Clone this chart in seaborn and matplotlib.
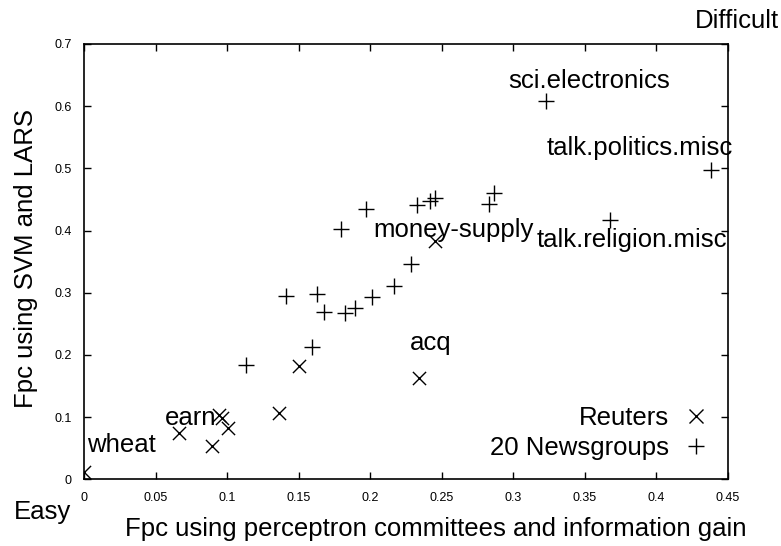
import matplotlib
matplotlib.use("Agg")
import matplotlib.pyplot as plt
import seaborn as sns
import pandas as pd
from matplotlib.lines import Line2D

# ---- data ----
reuters_x = [0.0, 0.0664, 0.0897, 0.0944, 0.0965, 0.1005, 0.1366, 0.150, 0.2338, 0.2455]
reuters_y = [0.011, 0.075, 0.054, 0.1032, 0.0990, 0.083, 0.106, 0.182, 0.163, 0.3836]

news_x = [0.1133, 0.1413, 0.1592, 0.1627, 0.1678, 0.1825, 0.1895, 0.2012, 0.2163, 0.2284,
          0.1797, 0.197, 0.2326, 0.2415, 0.245, 0.2867, 0.2827, 0.323, 0.4378, 0.3678]
news_y = [0.1838, 0.2947, 0.2132, 0.298, 0.2695, 0.267, 0.275, 0.2926, 0.3108, 0.346,
          0.402, 0.434, 0.441, 0.448, 0.4517, 0.461, 0.442, 0.609, 0.498, 0.4169]

label_names = ["wheat", "earn", "acq", "money-supply", "sci.electronics",
               "talk.politics.misc", "talk.religion.misc"]
label_x = [0.002, 0.0566, 0.228, 0.2019, 0.2967, 0.3236, 0.3161]
label_y = [0.044, 0.0873, 0.208, 0.390, 0.6286, 0.5214, 0.374]

x_ticks = [0, 0.05, 0.1, 0.15, 0.2, 0.25, 0.3, 0.35, 0.4, 0.45]
x_ticklabels = ["0", "0.05", "0.1", "0.15", "0.2", "0.25", "0.3", "0.35", "0.4", "0.45"]
y_ticks = [0, 0.1, 0.2, 0.3, 0.4, 0.5, 0.6, 0.7]
y_ticklabels = ["0", "0.1", "0.2", "0.3", "0.4", "0.5", "0.6", "0.7"]

series_names = ["Reuters", "20 Newsgroups"]

sns.set_style("ticks")
plt.rcParams["font.family"] = ["Liberation Sans", "DejaVu Sans"]
plt.rcParams["text.color"] = "black"
plt.rcParams["axes.labelcolor"] = "black"
plt.rcParams["xtick.color"] = "black"
plt.rcParams["ytick.color"] = "black"

FS = 18.5
W, H = 781, 546
fig = plt.figure(figsize=(W / 100, H / 100), dpi=100)
ax_l, ax_r, ax_t, ax_b = 84, 728, 44, 479.3
ax = fig.add_axes([ax_l / W, (H - ax_b) / H, (ax_r - ax_l) / W, (ax_b - ax_t) / H])

df_r = pd.DataFrame({"x": reuters_x, "y": reuters_y})
df_n = pd.DataFrame({"x": news_x, "y": news_y})
sns.scatterplot(data=df_r, x="x", y="y", marker="x", color="black", s=90,
                linewidth=1.0, ax=ax, legend=False, zorder=3)
sns.scatterplot(data=df_n, x="x", y="y", marker="+", color="black", s=120,
                linewidth=1.0, ax=ax, legend=False, zorder=3)

for name, lx, ly in zip(label_names, label_x, label_y):
    ax.text(lx, ly, name, fontsize=FS, ha="left", va="baseline", color="black", zorder=4)

ax.set_xlim(0, 0.45)
ax.set_ylim(0, 0.7)
ax.set_xticks(x_ticks)
ax.set_xticklabels(x_ticklabels)
ax.set_yticks(y_ticks)
ax.set_yticklabels(y_ticklabels)
ax.tick_params(direction="in", length=5, width=1, top=True, right=True,
               labelsize=9, pad=9, colors="black")
for sp in ax.spines.values():
    sp.set_visible(True)
    sp.set_linewidth(1.2)
    sp.set_color("black")

ax.set_xlabel("Fpc using perceptron committees and information gain", fontsize=FS)
ax.set_ylabel("Fpc using SVM and LARS", fontsize=FS)
ax.xaxis.set_label_coords((435.5 - ax_l) / (ax_r - ax_l), (ax_b - 517) / (ax_b - ax_t))
ax.yaxis.set_label_coords((38 - ax_l) / (ax_r - ax_l), (ax_b - 258) / (ax_b - ax_t))

handles = [
    Line2D([], [], marker="x", linestyle="none", color="black", markersize=10, markeredgewidth=1.0),
    Line2D([], [], marker="+", linestyle="none", color="black", markersize=12, markeredgewidth=1.0),
]
leg = ax.legend(handles, series_names, loc="lower right", markerfirst=False, frameon=False,
                fontsize=FS, handlelength=1.2, handletextpad=0.45, labelspacing=0.25,
                bbox_to_anchor=((711 - ax_l) / (ax_r - ax_l), (ax_b - 460) / (ax_b - ax_t)),
                borderaxespad=0, borderpad=0)

fig.text(695 / W, 1 - 28 / H, "Difficult", fontsize=FS, ha="left", va="baseline")
fig.text(14 / W, 1 - 519 / H, "Easy", fontsize=FS, ha="left", va="baseline")

fig.savefig("out.png", dpi=100)
